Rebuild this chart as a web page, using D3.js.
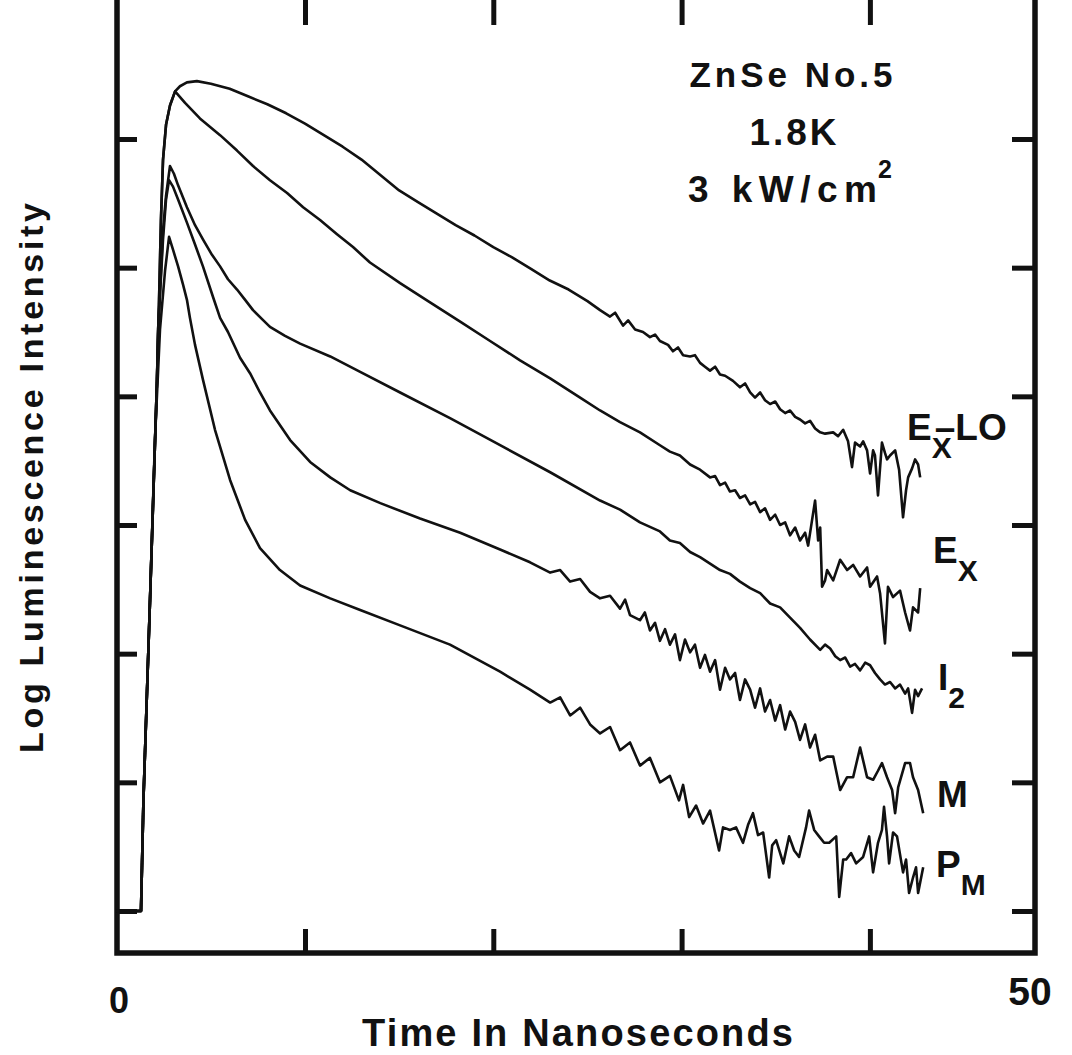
<!DOCTYPE html>
<html>
<head>
<meta charset="utf-8">
<script src="https://cdn.jsdelivr.net/npm/d3@7/dist/d3.min.js"></script>
<style>
  body { margin: 0; background: #fff; }
  svg { display: block; }
  text { font-family: "Liberation Sans", Arial, sans-serif; font-weight: bold; fill: #111; }
</style>
</head>
<body>
<svg></svg>
<script>
// time in ns, log intensity in tick units (ticks 0..6)

let xTicks = [10, 20, 30, 40]
let yTicks = [0, 1, 2, 3, 4, 5, 6]

// shared start of every trace: flat baseline then the laser rise
let rise = [[0, 0], [1.29, 0], [1.42, 0.86], [1.77, 2.42]]

let exLO = [[2.14,4.13],[2.25,4.75],[2.35,5.37],[2.46,5.84],[2.62,6.11],[2.83,6.26],[3.10,6.37],[3.36,6.41],[3.73,6.44],[4.26,6.45],
  [5,6.43],[6,6.39],[7,6.33],[8,6.27],[9,6.20],[10,6.12],[11,6.03],[12,5.94],[13,5.84],[14,5.72],[15,5.60],[16,5.51],[17,5.42],
  [18,5.33],[19,5.25],[20,5.16],[21,5.08],[22,4.99],[23,4.90],[24,4.83],[25,4.74],
  [25.67,4.67],[26.20,4.62],[26.47,4.65],[26.89,4.55],[27.16,4.59],[27.53,4.52],[27.95,4.50],[28.32,4.46],[28.59,4.48],[28.85,4.43],
  [29.28,4.40],[29.54,4.35],[29.81,4.38],[30.08,4.32],[30.45,4.31],[30.71,4.32],[30.98,4.26],[31.24,4.23],[31.51,4.20],[31.78,4.23],
  [32.04,4.17],[32.31,4.16],[32.73,4.12],[33.10,4.07],[33.37,4.10],[33.64,4.03],[33.90,3.99],[34.17,4.03],[34.43,3.97],[34.70,3.94],
  [34.97,3.96],[35.23,3.90],[35.50,3.87],[35.76,3.89],[36.03,3.84],[36.29,3.82],[36.56,3.79],[36.82,3.81],[37.09,3.75],[37.36,3.72],
  [37.62,3.71],[38.05,3.72],[38.31,3.69],[38.58,3.74],[38.84,3.65],[39.05,3.45],[39.21,3.64],[39.48,3.61],[39.64,3.65],[39.85,3.58],
  [40.01,3.40],[40.17,3.58],[40.27,3.54],[40.43,3.23],[40.64,3.64],[40.80,3.56],[40.91,3.51],[41.07,3.54],[41.34,3.58],[41.55,3.43],
  [41.76,3.06],[41.92,3.27],[42.03,3.37],[42.24,3.44],[42.40,3.51],[42.56,3.47],[42.67,3.37]]

let ex = [[2.14,4.13],[2.25,4.75],[2.35,5.37],[2.46,5.84],[2.62,6.11],[2.83,6.26],[3.10,6.37],
  [3.63,6.28],[4.42,6.16],[5.49,6.03],[6.39,5.91],[7.24,5.79],[8.14,5.68],[9.05,5.58],[9.90,5.47],[10.80,5.37],[11.70,5.26],
  [12.55,5.16],[13.45,5.04],[15.05,4.88],[16.64,4.73],[18.24,4.58],[19.83,4.43],[21.42,4.28],[23.02,4.14],[24.61,3.99],[25.67,3.89],
  [26.73,3.80],[27.79,3.72],[28.85,3.62],[29.38,3.57],[29.91,3.54],[30.45,3.47],[30.98,3.43],[31.51,3.37],[31.78,3.38],[32.04,3.31],
  [32.31,3.33],[32.57,3.26],[32.84,3.27],[33.10,3.21],[33.37,3.23],[33.64,3.16],[33.90,3.18],[34.17,3.10],[34.43,3.13],[34.70,3.04],
  [34.97,3.08],[35.23,3.00],[35.50,3.02],[35.76,2.92],[36.03,2.98],[36.29,2.88],[36.56,2.94],[36.72,2.84],[36.93,3.04],[37.09,3.19],
  [37.25,2.88],[37.36,2.98],[37.46,2.52],[37.62,2.57],[37.73,2.65],[38.05,2.57],[38.42,2.73],[38.79,2.65],[39.11,2.69],[39.48,2.60],
  [39.85,2.67],[40.01,2.52],[40.38,2.60],[40.54,2.47],[40.80,2.08],[40.96,2.52],[41.23,2.44],[41.60,2.49],[41.87,2.32],[42.13,2.18],
  [42.29,2.36],[42.56,2.32],[42.67,2.51]]

let i2 = [[2.14,4.13],[2.20,4.52],[2.46,5.29],[2.62,5.56],[2.83,5.79],
  [3.04,5.73],[3.26,5.64],[3.73,5.47],[4.16,5.33],[4.58,5.22],[5.06,5.10],[5.49,5.01],[5.91,4.91],[6.39,4.83],[6.82,4.75],[7.24,4.67],
  [7.72,4.60],[8.14,4.54],[8.94,4.47],[9.74,4.41],[11.34,4.31],[12.93,4.19],[15.05,4.03],[17.70,3.83],[20.36,3.62],[23.02,3.41],
  [25.67,3.19],[26.73,3.12],[27.79,3.02],[28.85,2.95],[29.38,2.88],[29.91,2.86],[30.45,2.79],[30.98,2.75],[31.51,2.70],[32.04,2.65],
  [32.57,2.62],[33.10,2.56],[33.64,2.51],[34.17,2.47],[34.70,2.39],[35.23,2.36],[35.76,2.28],[36.29,2.20],[36.82,2.11],[37.36,2.03],
  [37.62,2.07],[37.89,2.04],[38.16,1.98],[38.42,1.95],[38.69,1.97],[38.95,1.90],[39.21,1.92],[39.48,1.87],[39.75,1.93],[40.01,1.91],
  [40.27,1.85],[40.54,1.80],[40.80,1.76],[41.07,1.78],[41.34,1.73],[41.60,1.76],[41.87,1.69],[42.03,1.73],[42.24,1.54],[42.40,1.72],
  [42.56,1.67],[42.77,1.73]]

let m = [[2.14,4.13],[2.20,4.52],[2.46,5.22],[2.62,5.53],[2.78,5.68],
  [2.99,5.63],[3.26,5.53],[3.73,5.35],[4.16,5.18],[4.58,5.01],[5.12,4.77],[5.49,4.61],[5.91,4.50],[6.55,4.30],[7.08,4.18],[7.61,4.03],
  [8.14,3.89],[9.21,3.66],[10.27,3.49],[11.34,3.37],[12.40,3.27],[14.00,3.17],[16.11,3.05],[18.24,2.94],[20.36,2.81],[21.95,2.71],
  [23.02,2.63],[23.55,2.65],[24.08,2.56],[24.61,2.58],[25.14,2.48],[25.67,2.43],[26.20,2.45],[26.73,2.35],[27.00,2.42],[27.26,2.30],
  [27.79,2.26],[28.05,2.32],[28.32,2.18],[28.59,2.24],[28.85,2.10],[29.12,2.19],[29.38,2.07],[29.65,2.15],[29.91,1.95],[30.18,2.11],
  [30.45,2.01],[30.71,2.07],[30.98,1.89],[31.24,1.99],[31.51,1.86],[31.78,1.95],[32.04,1.72],[32.31,1.89],[32.57,1.80],[32.84,1.85],
  [33.10,1.64],[33.37,1.80],[33.64,1.72],[33.90,1.58],[34.17,1.73],[34.43,1.55],[34.70,1.64],[34.97,1.48],[35.23,1.60],[35.50,1.41],
  [35.76,1.55],[36.03,1.47],[36.29,1.33],[36.56,1.45],[36.82,1.27],[37.09,1.37],[37.36,1.17],[37.73,1.20],[38.05,1.20],[38.42,0.94],
  [38.79,1.04],[39.11,1.04],[39.48,1.27],[39.85,1.04],[40.17,1.02],[40.43,1.09],[40.64,1.15],[40.91,1.04],[41.18,0.94],[41.34,0.76],
  [41.50,0.96],[41.87,1.15],[42.13,1.15],[42.29,1.04],[42.56,0.94],[42.83,0.76]]

let pm = [[2.03,3.66],[2.30,4.52],[2.57,4.98],[2.78,5.24],
  [2.99,5.14],[3.26,5.01],[3.52,4.87],[3.73,4.75],[3.89,4.61],[4.16,4.40],[4.58,4.13],[5.22,3.74],[6.02,3.35],[6.82,3.04],[7.61,2.82],
  [8.67,2.65],[9.74,2.53],[11.34,2.43],[12.93,2.34],[15.05,2.22],[17.70,2.07],[20.36,1.86],[21.95,1.72],[23.02,1.62],[23.55,1.66],
  [24.08,1.52],[24.61,1.58],[25.14,1.45],[25.67,1.38],[26.20,1.43],[26.73,1.25],[27.26,1.31],[27.79,1.13],[28.32,1.19],[28.85,1.00],
  [29.38,1.05],[29.86,0.86],[30.08,0.98],[30.40,0.73],[30.77,0.82],[31.14,0.68],[31.51,0.78],[31.99,0.47],[32.20,0.65],[32.57,0.63],
  [32.89,0.65],[33.26,0.53],[33.53,0.67],[33.79,0.76],[34.06,0.59],[34.33,0.61],[34.65,0.26],[34.81,0.51],[35.02,0.55],[35.40,0.37],
  [35.71,0.58],[35.98,0.47],[36.24,0.42],[36.61,0.65],[36.77,0.78],[37.04,0.63],[37.30,0.58],[37.57,0.53],[37.84,0.53],[38.21,0.58],
  [38.37,0.11],[38.58,0.40],[38.74,0.40],[39.00,0.45],[39.27,0.37],[39.64,0.42],[39.96,0.58],[40.17,0.30],[40.43,0.53],[40.64,0.63],
  [40.75,0.81],[40.91,0.58],[41.02,0.37],[41.23,0.61],[41.44,0.58],[41.76,0.30],[41.92,0.40],[42.08,0.14],[42.29,0.26],[42.45,0.34],
  [42.56,0.14],[42.83,0.34]]

let series = [exLO, ex, i2, m, pm]

// curve labels: main letter, subscript, extra
let labels = [
  {main: 'E', sub: 'X', rest: '\u2013LO', x: 907, y: 440},
  {main: 'E', sub: 'X', rest: '', x: 933, y: 563},
  {main: 'I', sub: '2', rest: '', x: 938, y: 690},
  {main: 'M', sub: '', rest: '', x: 937, y: 807},
  {main: 'P', sub: 'M', rest: '', x: 936, y: 877}
]

let W = 1072, H = 1055
let frameL = 117, frameR = 1035, frameT = -3, frameB = 953

let svg = d3.select('svg').attr('width', W).attr('height', H)

let x = d3.scaleLinear().domain([0, 50]).range([116.7, 1058.2])
let y = d3.scaleLinear().domain([0, 6]).range([911, 139])

// frame
svg.append('rect')
  .attr('x', frameL).attr('y', frameT)
  .attr('width', frameR - frameL).attr('height', frameB - frameT)
  .attr('fill', 'none').attr('stroke', '#111').attr('stroke-width', 5.5)

// inward ticks on all four sides
function ticks(g) {
  g.select('.domain').remove()
  g.selectAll('.tick line').attr('stroke', '#111').attr('stroke-width', 5)
}
svg.append('g').attr('transform', `translate(0,${frameB})`)
  .call(d3.axisBottom(x).tickValues(xTicks).tickSize(-24).tickFormat('')).call(ticks)
svg.append('g').attr('transform', `translate(0,${frameT})`)
  .call(d3.axisTop(x).tickValues(xTicks).tickSize(-28).tickFormat('')).call(ticks)
svg.append('g').attr('transform', `translate(${frameL},0)`)
  .call(d3.axisLeft(y).tickValues(yTicks).tickSize(-20).tickFormat('')).call(ticks)
svg.append('g').attr('transform', `translate(${frameR},0)`)
  .call(d3.axisRight(y).tickValues(yTicks).tickSize(-23).tickFormat('')).call(ticks)

// traces
let line = d3.line().x(d => x(d[0])).y(d => y(d[1]))
svg.selectAll('path.trace')
  .data(series)
  .enter().append('path')
  .attr('class', 'trace')
  .attr('d', d => line(rise.concat(d)))
  .attr('fill', 'none')
  .attr('stroke', '#111')
  .attr('stroke-width', 2.6)
  .attr('stroke-linejoin', 'round')

// curve labels, one text each; the dash of E-LO sits over the subscript
labels.forEach(function(l) {
  let t = svg.append('text').attr('x', l.x).attr('y', l.y).attr('font-size', 37)
  t.append('tspan').text(l.main)
  if (l.sub) t.append('tspan').attr('dy', 18).attr('font-size', 30).text(l.sub)
  if (l.rest) t.append('tspan').attr('dx', -17).attr('dy', -18).text(l.rest)
})

// sample info
svg.append('text').attr('x', 791).attr('y', 87).attr('text-anchor', 'middle')
  .attr('font-size', 35).attr('textLength', 203).attr('lengthAdjust', 'spacing').text('ZnSe No.5')
svg.append('text').attr('x', 793).attr('y', 145).attr('text-anchor', 'middle')
  .attr('font-size', 37).attr('textLength', 87).attr('lengthAdjust', 'spacing').text('1.8K')
svg.append('text').attr('x', 688).attr('y', 202)
  .attr('font-size', 37).attr('textLength', 189).attr('lengthAdjust', 'spacing').text('3 kW/cm')
svg.append('text').attr('x', 878).attr('y', 178).attr('font-size', 25).text('2')

// axis end labels and titles
svg.append('text').attr('x', 119).attr('y', 1013).attr('text-anchor', 'middle').attr('font-size', 36).text('0')
svg.append('text').attr('x', 1030).attr('y', 1005).attr('text-anchor', 'middle').attr('font-size', 39).text('50')

svg.append('text').attr('x', 362).attr('y', 1046)
  .attr('font-size', 38).attr('textLength', 431).attr('lengthAdjust', 'spacing').text('Time In Nanoseconds')

svg.append('text').attr('transform', 'translate(43,478) rotate(-90)').attr('text-anchor', 'middle')
  .attr('font-size', 34).attr('textLength', 550).attr('lengthAdjust', 'spacing').text('Log Luminescence Intensity')
</script>
</body>
</html>
